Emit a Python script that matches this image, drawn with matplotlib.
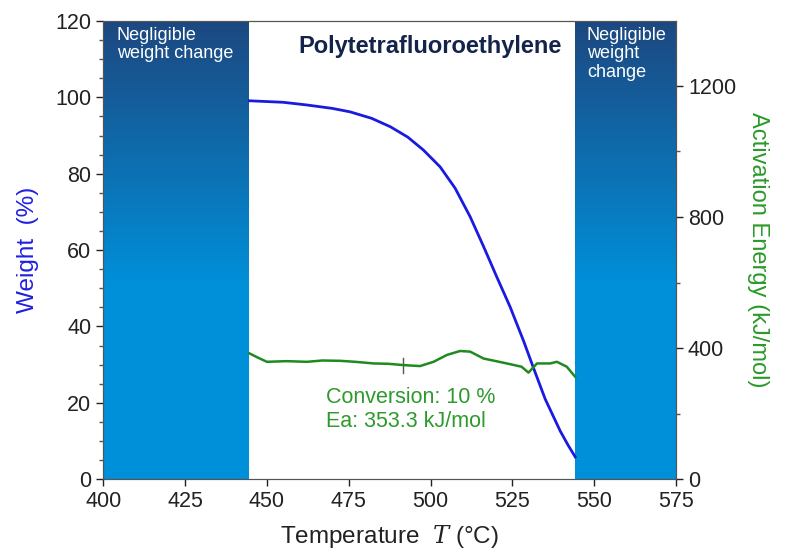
import matplotlib
matplotlib.use('Agg')
import matplotlib.pyplot as plt
import numpy as np
from matplotlib.colors import LinearSegmentedColormap

plt.rcParams['font.family'] = ['Liberation Sans', 'DejaVu Sans']
plt.rcParams['mathtext.fontset'] = 'dejavuserif'

# weight curve (blue, left axis)
temp_w = [444.6, 455.0, 462.2, 470.0, 475.4, 482.0, 487.7, 493.0, 497.8, 502.9, 507.5,
          512.1, 516.2, 520.2, 524.3, 528.4, 531.4, 535.0, 539.6, 542.0, 544.2]
weight = [99.1, 98.7, 98.0, 97.1, 96.2, 94.5, 92.3, 89.6, 86.2, 81.8, 76.2,
          68.7, 60.9, 53.0, 45.1, 36.2, 29.2, 21.0, 12.6, 8.9, 5.8]

# activation energy (green, right axis)
temp_e = [444.6, 447.0, 450.0, 456.0, 462.2, 467.0, 472.4, 477.0, 482.6, 487.0, 491.7,
          496.8, 500.9, 505.0, 509.0, 512.1, 516.2, 520.0, 523.3, 527.8, 529.9,
          532.5, 536.5, 538.6, 541.6, 544.2]
energy = [384, 372, 358, 360, 358, 362, 361, 358, 353, 352, 348,
          345, 358, 379, 391, 389, 368, 360, 353, 343, 325,
          353, 353, 358, 343, 312]

marker_t = 491.7
marker_e = 348
note = 'Conversion: 10 %\nEa: 353.3 kJ/mol'

fig = plt.figure(figsize=(7.88, 5.52), dpi=100)
ax = fig.add_axes([0.131, 0.132, 0.727, 0.83])

# gradient shaded regions
cmap = LinearSegmentedColormap.from_list('g', [(0, '#0090da'), (0.42, '#0090da'), (1, '#1d4880')])
grad = np.linspace(0, 1, 256).reshape(-1, 1)
for x0, x1 in [(400, 444.3), (544.2, 575)]:
    ax.imshow(grad, extent=[x0, x1, 0, 120], origin='lower', aspect='auto', cmap=cmap, zorder=1)
ax.set_xlim(400, 575)
ax.set_ylim(0, 120)

ax.plot(temp_w, weight, color='#1a1ae0', lw=2, zorder=3)

ax2 = ax.twinx()
ax2.set_ylim(0, 1398)
ax2.plot(temp_e, energy, color='#1f8a1f', lw=1.8, zorder=3)
ax2.plot([marker_t, marker_t], [marker_e - 25, marker_e + 22], color='#555555', lw=1)
ax2.text(468.1, 282, note, color='#2e9a2e', fontsize=15.5, va='top', linespacing=1.2)

fig.text(430 / 788, 1 - 47 / 552, 'Polytetrafluoroethylene', ha='center', va='center',
         fontsize=17, fontweight='bold', color='#14234a')
fig.text(117 / 788, 1 - 27 / 552, 'Negligible\nweight change', ha='left', va='top',
         fontsize=13, color='white', linespacing=1.1)
fig.text(587 / 788, 1 - 27 / 552, 'Negligible\nweight\nchange', ha='left', va='top',
         fontsize=13, color='white', linespacing=1.1)

ax.set_xticks(np.arange(400, 576, 25))
ax.set_yticks(np.arange(0, 121, 20))
ax.set_yticks(np.arange(0, 121, 5), minor=True)
ax2.set_yticks([0, 400, 800, 1200])
ax2.set_yticks([200, 600, 1000], minor=True)
for a in (ax, ax2):
    a.tick_params(labelsize=15.5, colors='#222222', length=5, width=1)
    a.tick_params(which='minor', length=3, width=1, colors='#555555')
    for s in a.spines.values():
        s.set_color('#555555')

ax.set_ylabel('Weight  (%)', color='#2020e0', fontsize=17.5, labelpad=12)
ax2.set_ylabel('Activation Energy (kJ/mol)', color='#2a9a2a', fontsize=17,
               rotation=-90, labelpad=24)
ax.set_xlabel('Temperature  $T$ (°C)', fontsize=17.5, labelpad=8, color='#222222')

fig.savefig('out.png', dpi=100)
